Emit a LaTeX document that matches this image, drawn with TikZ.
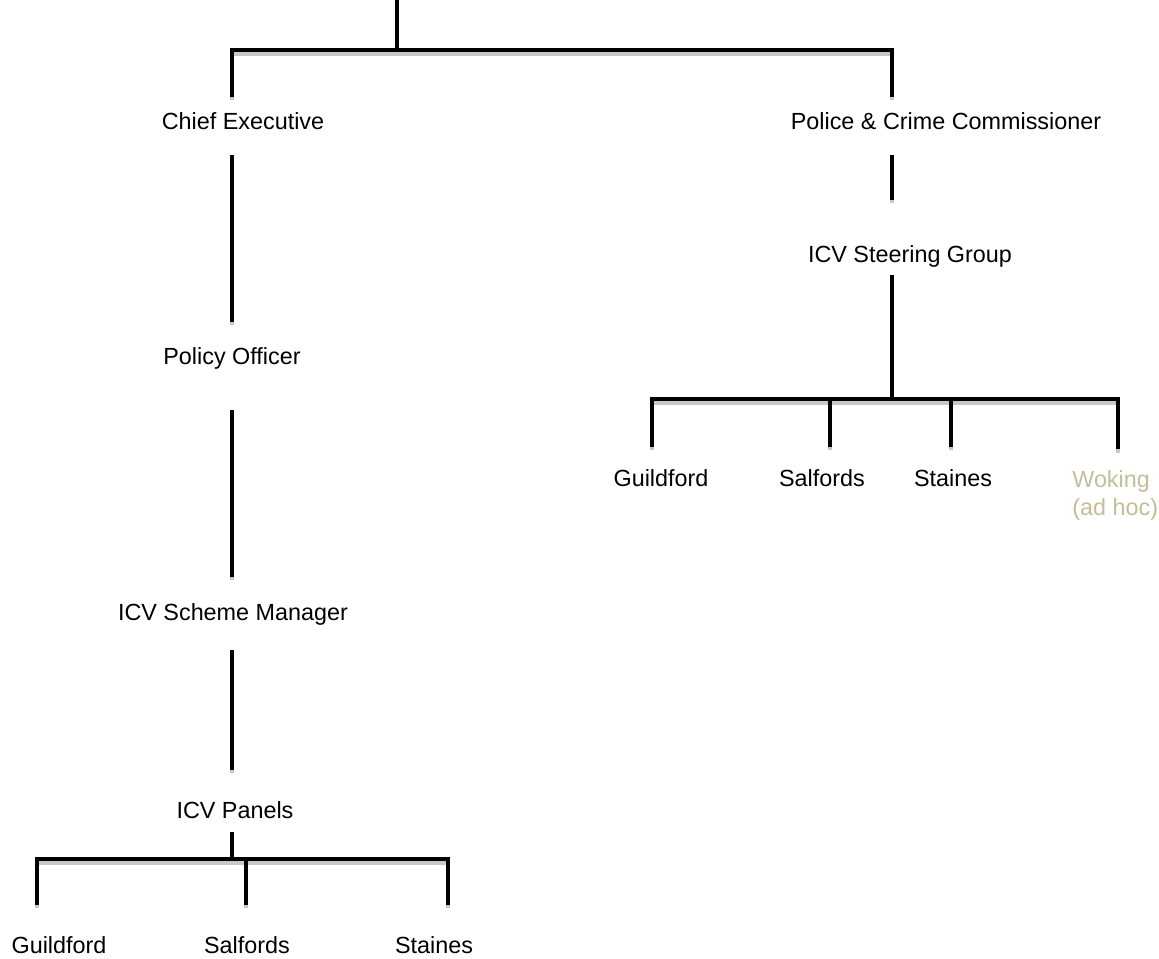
\documentclass[tikz,border=0pt]{standalone}
\usepackage{fontspec}
\setmainfont{Liberation Sans}
\usetikzlibrary{calc}
\definecolor{wokingtan}{HTML}{C4BD97}
\definecolor{shadowgrey}{HTML}{C8C8C8}

\begin{document}
\begin{tikzpicture}[
  x=0.02cm, y=-0.02cm,
  lbl/.style={font=\fontsize{13.3}{16}\selectfont, inner sep=0pt, text height=13pt, text depth=2.8pt},
  lnk/.style={line width=2.6pt, preaction={draw=shadowgrey, line width=2.6pt, transform canvas={yshift=-2pt}}},
  gap/.style={shorten <=#1, shorten >=#1},
]
  \useasboundingbox (0,0) rectangle (1159,959);

  % trunks and junctions
  \coordinate (root) at (397,0);
  \coordinate (rbar) at (397,50);
  \coordinate (ltrunk) at (232,0);
  \coordinate (rtrunk) at (892,0);

  % left branch
  \node[lbl] (ce)  at (243,121) {Chief Executive};
  \node[lbl] (po)  at (232,356) {Policy Officer};
  \node[lbl] (sm)  at (233,612) {ICV Scheme Manager};
  \node[lbl] (pan) at (235,810) {ICV Panels};
  \node[lbl] (g1)  at (59,945)  {Guildford};
  \node[lbl] (sa1) at (247,945) {Salfords};
  \node[lbl] (st1) at (434,945) {Staines};

  % right branch
  \node[lbl] (pcc) at (946,121) {Police \& Crime Commissioner};
  \node[lbl] (sg)  at (910,254) {ICV Steering Group};
  \node[lbl] (g2)  at (661,478) {Guildford};
  \node[lbl] (sa2) at (822,478) {Salfords};
  \node[lbl] (st2) at (953,478) {Staines};
  \node[font=\fontsize{13.3}{16}\selectfont, inner sep=0pt, align=left, text=wokingtan,
        anchor=north west] (wk) at (1072,470) {Woking\\(ad hoc)};

  % top
  \draw[lnk] (root) -- (rbar);
  \draw[lnk, gap=0.2cm] (ce.north -| ltrunk) |- (rbar) -| (pcc.north -| rtrunk);

  % left chain
  \draw[lnk, gap=0.4cm] (ce.south -| ltrunk) -- (po.north -| ltrunk);
  \draw[lnk, shorten <=0.8cm, shorten >=0.42cm] (po.south -| ltrunk) -- (sm.north -| ltrunk);
  \draw[lnk, shorten <=0.48cm, shorten >=0.52cm] (sm.south -| ltrunk) -- (pan.north -| ltrunk);

  \coordinate (pbar) at (232,859);
  \coordinate (pl) at (37,859);
  \coordinate (pm) at (246,859);
  \coordinate (pr) at (448,859);
  \draw[lnk, shorten <=0.16cm] (pan.south -| ltrunk) -- (pbar);
  \draw[lnk, gap=0.52cm] (g1.north -| pl) -- (pl) -- (pr) -- (st1.north -| pr);
  \draw[lnk, shorten >=0.52cm] (pm) -- (sa1.north -| pm);

  % right chain
  \draw[lnk, shorten <=0.4cm, shorten >=0.8cm] (pcc.south -| rtrunk) -- (sg.north -| rtrunk);

  \coordinate (sbar) at (892,399);
  \coordinate (sl) at (652,399);
  \coordinate (s2) at (830,399);
  \coordinate (s3) at (951,399);
  \coordinate (sr) at (1118,399);
  \draw[lnk, shorten <=0.14cm] (sg.south -| rtrunk) -- (sbar);
  \draw[lnk, shorten <=0.34cm, shorten >=0.42cm] (g2.north -| sl) -- (sl) -- (sr) -- (wk.north -| sr);
  \draw[lnk, shorten >=0.34cm] (s2) -- (sa2.north -| s2);
  \draw[lnk, shorten >=0.34cm] (s3) -- (st2.north -| s3);
\end{tikzpicture}
\end{document}
